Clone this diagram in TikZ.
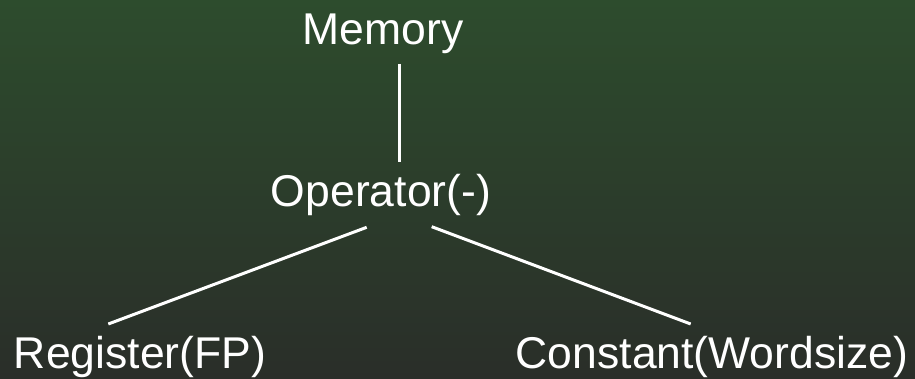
\documentclass[tikz,border=0pt]{standalone}
\usepackage{fontspec}
\setmainfont{Liberation Sans}
\definecolor{bgtop}{RGB}{45,76,45}
\definecolor{bgbot}{RGB}{42,46,41}
\begin{document}
\begin{tikzpicture}[x=1pt,y=-1pt,
  lbl/.style={text=white,inner sep=0pt,anchor=base,font=\fontsize{44.5}{50}\selectfont},
  edge/.style={draw=white,line width=3pt}]
\shade[top color=bgtop,bottom color=bgbot] (0,0) rectangle (915,379);
\useasboundingbox (0,0) rectangle (915,379);
\node[lbl] (mem) at (383,45) {Memory};
\node[lbl] (op) at (381,207) {Operator(-)};
\node[lbl] (reg) at (140,368) {Register(FP)};
\node[lbl] (con) at (712,368) {Constant(Wordsize)};
\coordinate (memB) at (399.5,64);
\coordinate (opT) at (399.5,162.5);
\coordinate (opL) at (366.7,227.3);
\coordinate (regT) at (108.3,324);
\coordinate (opR) at (431.7,226.7);
\coordinate (conT) at (690.7,324);
\draw[edge] (memB) -- (opT);
\draw[edge] (opL) -- (regT);
\draw[edge] (opR) -- (conT);
\end{tikzpicture}
\end{document}
